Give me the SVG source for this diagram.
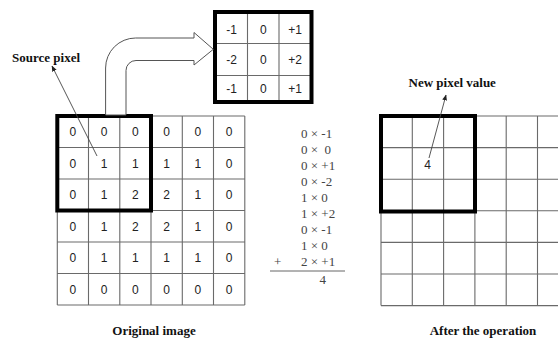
<svg xmlns="http://www.w3.org/2000/svg" width="558" height="340" viewBox="0 0 558 340">
<defs>
<style>
.grid{stroke:#6a6a6a;stroke-width:1.1;fill:none}
.thick{stroke:#000;stroke-width:4;fill:none}
.num{font-family:"Liberation Sans",Arial,sans-serif;font-size:12px;fill:#222;text-anchor:middle}
.lbl{font-family:"Liberation Serif","Times New Roman",serif;font-size:13px;font-weight:bold;fill:#111}
.calc{font-family:"Liberation Serif","Times New Roman",serif;font-size:13px;fill:#444}
.lead{stroke:#444;stroke-width:0.9;fill:none}
</style>
<marker id="ah" viewBox="0 0 10 10" refX="9" refY="5" markerWidth="6" markerHeight="6" orient="auto" markerUnits="userSpaceOnUse">
<path d="M0,1 L10,5 L0,9 Z" fill="#222"/>
</marker>
</defs>
<rect width="558" height="340" fill="#fff"/>

<g id="original-image">
<rect x="57.3" y="116" width="187.5" height="189" fill="#fff"/>
<path class="grid" d="M57.3,116 H244.8 M57.3,147.5 H244.8 M57.3,179 H244.8 M57.3,210.5 H244.8 M57.3,242 H244.8 M57.3,273.5 H244.8 M57.3,305 H244.8 M57.3,116 V305 M88.5,116 V305 M119.8,116 V305 M151,116 V305 M182.3,116 V305 M213.5,116 V305 M244.8,116 V305"/>
<g class="num">
<text x="72.9" y="136">0</text><text x="104.2" y="136">0</text><text x="135.4" y="136">0</text><text x="166.7" y="136">0</text><text x="197.9" y="136">0</text><text x="229.2" y="136">0</text>
<text x="72.9" y="167.5">0</text><text x="104.2" y="167.5">1</text><text x="135.4" y="167.5">1</text><text x="166.7" y="167.5">1</text><text x="197.9" y="167.5">1</text><text x="229.2" y="167.5">0</text>
<text x="72.9" y="199">0</text><text x="104.2" y="199">1</text><text x="135.4" y="199">2</text><text x="166.7" y="199">2</text><text x="197.9" y="199">1</text><text x="229.2" y="199">0</text>
<text x="72.9" y="230.5">0</text><text x="104.2" y="230.5">1</text><text x="135.4" y="230.5">2</text><text x="166.7" y="230.5">2</text><text x="197.9" y="230.5">1</text><text x="229.2" y="230.5">0</text>
<text x="72.9" y="262">0</text><text x="104.2" y="262">1</text><text x="135.4" y="262">1</text><text x="166.7" y="262">1</text><text x="197.9" y="262">1</text><text x="229.2" y="262">0</text>
<text x="72.9" y="293.5">0</text><text x="104.2" y="293.5">0</text><text x="135.4" y="293.5">0</text><text x="166.7" y="293.5">0</text><text x="197.9" y="293.5">0</text><text x="229.2" y="293.5">0</text>
</g>
<rect class="thick" x="57.3" y="116" width="93.7" height="94.5"/>
<text class="lbl" x="154" y="335" text-anchor="middle">Original image</text>
</g>

<g id="kernel">
<rect x="215" y="12" width="96.5" height="90" fill="#fff"/>
<path class="grid" d="M215,43.5 H311.5 M215,75.5 H311.5 M247.5,12 V102 M279,12 V102"/>
<rect class="thick" x="215" y="12" width="96.5" height="90"/>
<g class="num">
<text x="231.5" y="33.5">-1</text><text x="263.3" y="33.5">0</text><text x="295" y="33.5">+1</text>
<text x="231.5" y="64">-2</text><text x="263.3" y="64">0</text><text x="295" y="64">+2</text>
<text x="231.5" y="93">-1</text><text x="263.3" y="93">0</text><text x="295" y="93">+1</text>
</g>
</g>

<g id="result-image">
<rect x="381" y="116" width="177" height="189.6" fill="#fff"/>
<path class="grid" d="M381,116 H558 M381,147.6 H558 M381,179.2 H558 M381,210.8 H558 M381,242.4 H558 M381,274 H558 M381,305.6 H558 M381,116 V305.6 M412.3,116 V305.6 M443.6,116 V305.6 M474.9,116 V305.6 M506.2,116 V305.6 M537.5,116 V305.6"/>
<rect class="thick" x="381" y="116" width="94" height="95.5"/>
<text class="num" x="427.7" y="169.3">4</text>
<text class="lbl" x="483" y="335" text-anchor="middle">After the operation</text>
</g>

<g id="calculation">
<text class="calc" x="301" y="138.3">0 × -1</text>
<text class="calc" x="301" y="154.3" xml:space="preserve">0 ×  0</text>
<text class="calc" x="301" y="170.3">0 × +1</text>
<text class="calc" x="301" y="186.3">0 × -2</text>
<text class="calc" x="301" y="202.3">1 × 0</text>
<text class="calc" x="301" y="218.3">1 × +2</text>
<text class="calc" x="301" y="234.3">0 × -1</text>
<text class="calc" x="301" y="250.3">1 × 0</text>
<text class="calc" x="274" y="266.3">+</text>
<text class="calc" x="301" y="266.3">2 × +1</text>
<line x1="270" y1="271" x2="345" y2="271" stroke="#666" stroke-width="1"/>
<text class="calc" x="319.5" y="283.5">4</text>
</g>

<g id="labels">
<text class="lbl" x="12" y="62">Source pixel</text>
<text class="lbl" x="408.5" y="87">New pixel value</text>
</g>

<g id="connectors">
<path d="M105.6,115 V68 A30,30 0 0 1 135.6,38 H194 V32.5 L213.3,49.3 L194,65 V60.5 H136 A10,10 0 0 0 126,70.5 V115 Z" fill="#fff" stroke="#555" stroke-width="1"/>
<line class="lead" x1="97" y1="156" x2="52" y2="66" marker-end="url(#ah)"/>
<line class="lead" x1="429" y1="158" x2="446" y2="95" marker-end="url(#ah)"/>
</g>
</svg>
